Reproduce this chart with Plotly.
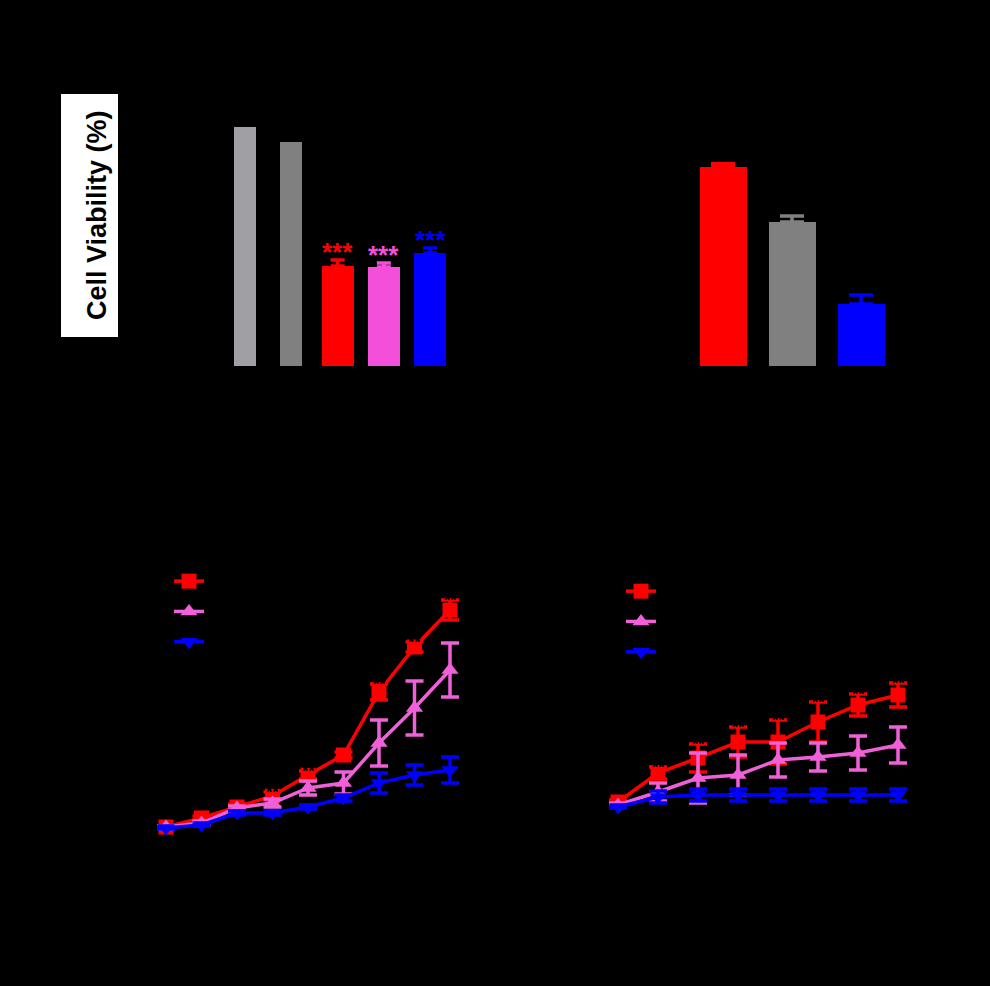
import plotly.graph_objects as go

W, H = 990, 986

# ---------------- data ----------------
# Panel A: cell viability (%)
a_groups = ["Control", "Vehicle", "Formulation 1", "Formulation 2", "Formulation 3"]
a_values = [100.0, 93.7, 41.8, 41.4, 47.3]
a_errors = [0.0, 0.0, 2.5, 1.7, 2.1]
a_colors = ["#A0A0A4", "#808080", "#FF0000", "#F44FDB", "#0000FF"]
a_stars = ["", "", "***", "***", "***"]

# Panel B
b_groups = ["Group A", "Group B", "Group C"]
b_values = [83.3, 60.3, 25.9]
b_errors = [1.3, 2.5, 3.8]
b_colors = ["#FF0000", "#808080", "#0000FF"]

# Panel C: growth curves
c_days = [0, 2, 4, 6, 8, 10, 12, 14, 16]
c_red = [65, 110, 165, 220, 325, 425, 740, 965, 1150]
c_red_err = [5, 10, 15, 20, 20, 15, 40, 25, 50]
c_pink = [65, 85, 160, 185, 260, 285, 485, 660, 850]
c_pink_err = [5, 10, 10, 20, 35, 55, 115, 135, 135]
c_blue = [60, 75, 135, 135, 165, 210, 285, 325, 350]
c_blue_err = [5, 5, 10, 10, 10, 15, 50, 50, 65]
c_sig = ["", "", "", "**", "**", "", "**", "**", "**"]

# Panel D: growth curves
d_days = [0, 2, 4, 6, 8, 10, 12, 14]
d_red = [90, 235, 310, 390, 390, 490, 575, 625]
d_red_err = [10, 30, 70, 75, 110, 100, 55, 60]
d_pink = [75, 140, 210, 225, 300, 315, 335, 375]
d_pink_err = [10, 45, 125, 100, 85, 70, 85, 90]
d_blue = [65, 115, 125, 125, 125, 125, 125, 125]
d_blue_err = [5, 30, 30, 30, 30, 30, 30, 30]
d_sig = ["", "**", "**", "**", "**", "**", "**", "**"]

series_names = ["Group A", "Group B", "Group C"]
line_colors = ["#FF0000", "#F060D8", "#0000FF"]
line_symbols = ["square", "triangle-up", "triangle-down"]


def px_x(p):
    return p / W


def px_y(p):
    return 1 - p / H


fig = go.Figure()

# ---------- Panel A ----------
fig.add_trace(go.Bar(
    x=a_groups, y=a_values,
    width=[0.48, 0.48, 0.69, 0.69, 0.69],
    marker=dict(color=a_colors, line=dict(width=0)),
    xaxis="x", yaxis="y", showlegend=False,
))
for g, v, e, c in zip(a_groups, a_values, a_errors, a_colors):
    if e > 0:
        fig.add_trace(go.Scatter(
            x=[g], y=[v], mode="markers", marker=dict(size=1, color="rgba(0,0,0,0)"),
            error_y=dict(type="data", array=[e], arrayminus=[0], symmetric=False,
                         thickness=3.5, width=7, color=c),
            xaxis="x", yaxis="y", showlegend=False, hoverinfo="skip",
        ))

# ---------- Panel B ----------
fig.add_trace(go.Bar(
    x=b_groups, y=b_values, width=0.68,
    marker=dict(color=b_colors, line=dict(width=0)),
    xaxis="x2", yaxis="y2", showlegend=False,
))
for g, v, e, c in zip(b_groups, b_values, b_errors, b_colors):
    fig.add_trace(go.Scatter(
        x=[g], y=[v], mode="markers", marker=dict(size=1, color="rgba(0,0,0,0)"),
        error_y=dict(type="data", array=[e], arrayminus=[0], symmetric=False,
                     thickness=3.5, width=12, color=c),
        xaxis="x2", yaxis="y2", showlegend=False, hoverinfo="skip",
    ))

# ---------- Panel C ----------
c_series = [(c_red, c_red_err), (c_pink, c_pink_err), (c_blue, c_blue_err)]
for (vals, errs), name, col, sym in zip(c_series, series_names, line_colors, line_symbols):
    fig.add_trace(go.Scatter(
        x=c_days, y=vals, mode="lines+markers", name=name,
        line=dict(color=col, width=3.5),
        marker=dict(symbol=sym, size=15, color=col),
        error_y=dict(type="data", array=errs, thickness=3.5, width=9, color=col),
        xaxis="x3", yaxis="y3", legend="legend",
    ))

# ---------- Panel D ----------
d_series = [(d_red, d_red_err), (d_pink, d_pink_err), (d_blue, d_blue_err)]
for (vals, errs), name, col, sym in zip(d_series, series_names, line_colors, line_symbols):
    fig.add_trace(go.Scatter(
        x=d_days, y=vals, mode="lines+markers", name=name,
        line=dict(color=col, width=3.5),
        marker=dict(symbol=sym, size=15, color=col),
        error_y=dict(type="data", array=errs, thickness=3.5, width=9, color=col),
        xaxis="x4", yaxis="y4", legend="legend2",
    ))

# ---------- annotations ----------
annotations = []
for g, v, e, c, s in zip(a_groups, a_values, a_errors, a_colors, a_stars):
    if s:
        annotations.append(dict(
            x=g, y=v + e, xref="x", yref="y", text="<b>" + s + "</b>", showarrow=False,
            yanchor="bottom", yshift=-9,
            font=dict(family="Arial, Liberation Sans", size=26, color=c),
        ))

for d, v, e, s in zip(c_days, c_red, c_red_err, c_sig):
    if s:
        annotations.append(dict(
            x=d, y=v + e, xref="x3", yref="y3", text="<b>" + s + "</b>", showarrow=False,
            yanchor="middle", font=dict(family="Arial, Liberation Sans", size=16, color="black"),
        ))
for d, v, e, s in zip(d_days, d_red, d_red_err, d_sig):
    if s:
        annotations.append(dict(
            x=d, y=v + e, xref="x4", yref="y4", text="<b>" + s + "</b>", showarrow=False,
            yanchor="middle", font=dict(family="Arial, Liberation Sans", size=16, color="black"),
        ))

annotations.append(dict(
    x=px_x(97), y=px_y(215), xref="paper", yref="paper",
    text="<b>Cell Viability (%)</b>", textangle=-90, showarrow=False,
    xanchor="center", yanchor="middle",
    font=dict(family="Arial, Liberation Sans", size=27, color="black"),
))

shapes = [dict(
    type="rect", xref="paper", yref="paper",
    x0=px_x(61), x1=px_x(118), y0=px_y(337), y1=px_y(94),
    fillcolor="white", line=dict(width=0), layer="below",
)]

axis_common = dict(showgrid=False, zeroline=False, showline=False,
                   showticklabels=False, ticks="", color="black")

legend_font = dict(size=21, color="black", family="Arial, Liberation Sans")

fig.update_layout(
    width=W, height=H,
    margin=dict(l=0, r=0, t=0, b=0),
    paper_bgcolor="black", plot_bgcolor="rgba(0,0,0,0)",
    bargap=0,
    xaxis=dict(domain=[px_x(222), px_x(453.25)], type="category",
               range=[-0.5, 4.5], anchor="y", **axis_common),
    yaxis=dict(domain=[px_y(366), px_y(79.2)], range=[0, 120], anchor="x", **axis_common),
    xaxis2=dict(domain=[px_x(688.5), px_x(895.5)], type="category",
                range=[-0.5, 2.5], anchor="y2", **axis_common),
    yaxis2=dict(domain=[px_y(366), px_y(79.2)], range=[0, 120], anchor="x2", **axis_common),
    xaxis3=dict(domain=[px_x(148.25), px_x(467.75)], range=[-1, 17], anchor="y3", **axis_common),
    yaxis3=dict(domain=[px_y(840), px_y(540)], range=[0, 1500], anchor="x3", **axis_common),
    xaxis4=dict(domain=[px_x(598), px_x(918)], range=[-1, 15], anchor="y4", **axis_common),
    yaxis4=dict(domain=[px_y(820), px_y(520)], range=[0, 1500], anchor="x4", **axis_common),
    legend=dict(x=px_x(169), y=px_y(561), xanchor="left", yanchor="top",
                bgcolor="rgba(0,0,0,0)", font=legend_font, tracegroupgap=0),
    legend2=dict(x=px_x(621), y=px_y(571), xanchor="left", yanchor="top",
                 bgcolor="rgba(0,0,0,0)", font=legend_font, tracegroupgap=0),
    annotations=annotations,
    shapes=shapes,
)

fig.write_html(
    "out.html",
    config={"displayModeBar": False},
    post_script="document.body.style.margin='0';document.body.style.background='black';",
)
